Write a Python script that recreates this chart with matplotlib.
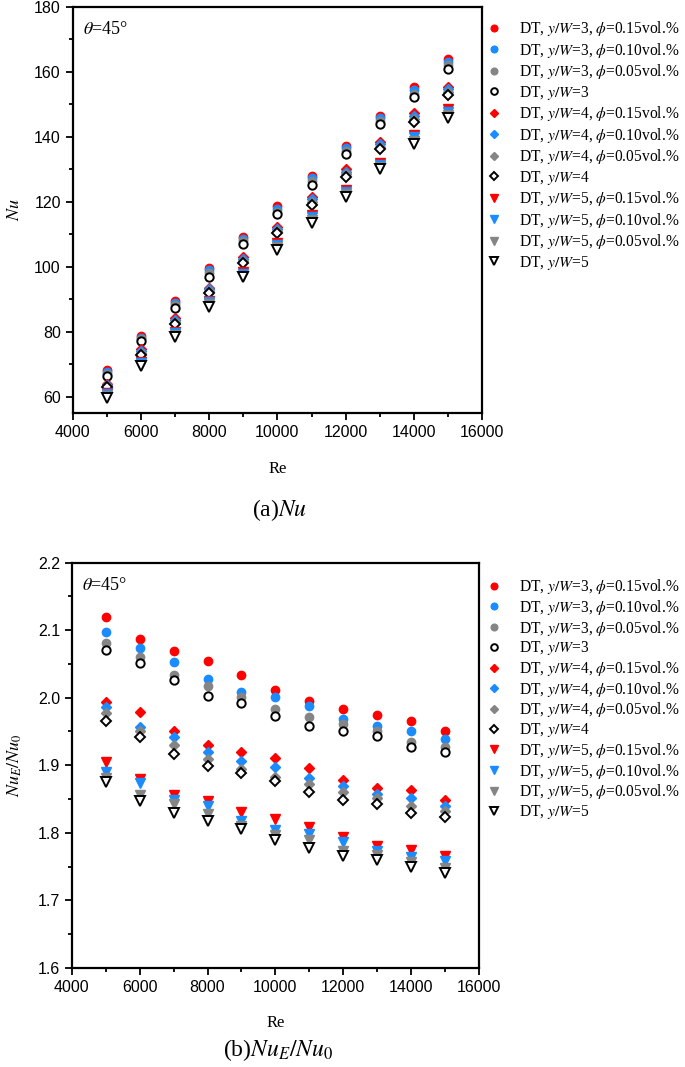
import numpy as np
import matplotlib
matplotlib.use('Agg')
import matplotlib.pyplot as plt
from matplotlib.ticker import MultipleLocator

plt.rcParams['font.family'] = ['Liberation Serif', 'DejaVu Serif']
plt.rcParams['mathtext.fontset'] = 'stix'

# Reynolds numbers
re = [5000, 6000, 7000, 8000, 9000, 10000, 11000, 12000, 13000, 14000, 15000]

# (a) Nu, y/W = 3
nu3_015 = [68.1, 78.7, 89.3, 99.6, 109.3, 118.6, 128.0, 137.2, 146.4, 155.2, 163.8]
nu3_010 = [67.6, 78.2, 88.8, 99.0, 108.6, 117.9, 127.3, 136.5, 145.7, 154.4, 163.0]
nu3_005 = [67.0, 77.7, 88.1, 98.0, 107.8, 117.0, 126.3, 135.6, 144.8, 153.3, 162.0]
nu3_000 = [66.4, 77.2, 87.4, 96.9, 106.9, 116.1, 125.2, 134.6, 143.9, 152.3, 161.0]
# y/W = 4
nu4_015 = [64.0, 74.6, 84.1, 93.5, 103.1, 112.2, 121.6, 130.0, 138.4, 147.3, 155.4]
nu4_010 = [63.7, 74.0, 83.6, 93.0, 102.5, 111.6, 120.8, 129.3, 137.7, 146.5, 154.6]
nu4_005 = [63.3, 73.4, 82.9, 92.4, 101.8, 110.9, 120.0, 128.4, 136.9, 145.5, 153.7]
nu4_000 = [63.0, 72.9, 82.3, 91.9, 101.2, 110.3, 119.1, 127.6, 136.1, 144.5, 152.9]
# y/W = 5
nu5_015 = [61.2, 70.8, 80.0, 89.5, 98.3, 107.2, 115.8, 123.7, 131.9, 140.5, 148.4]
nu5_010 = [60.9, 70.4, 79.7, 89.0, 97.8, 106.7, 115.2, 123.1, 131.3, 139.8, 147.7]
nu5_005 = [60.3, 69.9, 79.0, 88.4, 97.2, 106.0, 114.4, 122.3, 130.6, 138.8, 146.8]
nu5_000 = [59.7, 69.3, 78.4, 87.7, 96.7, 105.2, 113.4, 121.6, 130.0, 137.9, 145.9]

# (b) NuE/Nu0, y/W = 3
r3_015 = [2.120, 2.087, 2.069, 2.055, 2.034, 2.011, 1.995, 1.984, 1.975, 1.965, 1.951]
r3_010 = [2.097, 2.073, 2.053, 2.028, 2.009, 2.001, 1.988, 1.968, 1.958, 1.951, 1.939]
r3_005 = [2.081, 2.061, 2.034, 2.018, 2.001, 1.983, 1.972, 1.961, 1.951, 1.935, 1.927]
r3_000 = [2.070, 2.052, 2.027, 2.002, 1.992, 1.973, 1.958, 1.951, 1.943, 1.927, 1.920]
# y/W = 4
r4_015 = [1.994, 1.979, 1.951, 1.930, 1.920, 1.911, 1.896, 1.878, 1.867, 1.863, 1.848]
r4_010 = [1.987, 1.956, 1.942, 1.920, 1.906, 1.897, 1.881, 1.870, 1.858, 1.852, 1.840]
r4_005 = [1.978, 1.950, 1.930, 1.909, 1.895, 1.883, 1.872, 1.861, 1.851, 1.839, 1.832]
r4_000 = [1.966, 1.942, 1.916, 1.899, 1.889, 1.876, 1.860, 1.848, 1.842, 1.830, 1.824]
# y/W = 5
r5_015 = [1.905, 1.879, 1.856, 1.847, 1.831, 1.821, 1.809, 1.794, 1.781, 1.775, 1.765]
r5_010 = [1.890, 1.873, 1.849, 1.839, 1.818, 1.804, 1.798, 1.787, 1.773, 1.764, 1.758]
r5_005 = [1.881, 1.856, 1.842, 1.828, 1.810, 1.797, 1.789, 1.773, 1.767, 1.757, 1.748]
r5_000 = [1.875, 1.847, 1.830, 1.818, 1.805, 1.790, 1.777, 1.766, 1.759, 1.750, 1.741]

labels = [
    'DT, $y/W$=3, $\\phi$=0.15vol.%', 'DT, $y/W$=3, $\\phi$=0.10vol.%',
    'DT, $y/W$=3, $\\phi$=0.05vol.%', 'DT, $y/W$=3',
    'DT, $y/W$=4, $\\phi$=0.15vol.%', 'DT, $y/W$=4, $\\phi$=0.10vol.%',
    'DT, $y/W$=4, $\\phi$=0.05vol.%', 'DT, $y/W$=4',
    'DT, $y/W$=5, $\\phi$=0.15vol.%', 'DT, $y/W$=5, $\\phi$=0.10vol.%',
    'DT, $y/W$=5, $\\phi$=0.05vol.%', 'DT, $y/W$=5',
]

red = '#ff0000'
blue = '#1a8cff'
gray = '#858585'
faces = [red, blue, gray, 'white'] * 3
edges = [red, blue, gray, 'black'] * 3
marks = ['o'] * 4 + ['D'] * 4 + ['v'] * 4
msizes = [6] * 4 + [5.5] * 4 + [6.5] * 4

nu_series = [nu3_015, nu3_010, nu3_005, nu3_000,
             nu4_015, nu4_010, nu4_005, nu4_000,
             nu5_015, nu5_010, nu5_005, nu5_000]
r_series = [r3_015, r3_010, r3_005, r3_000,
            r4_015, r4_010, r4_005, r4_000,
            r5_015, r5_010, r5_005, r5_000]

fig = plt.figure(figsize=(6.85, 10.67), dpi=100)
ax1 = fig.add_axes([0.106, 0.613, 0.598, 0.3806])
ax2 = fig.add_axes([0.105, 0.093, 0.594, 0.3796])


def style_axes(ax):
    for s in ax.spines.values():
        s.set_linewidth(1.6)
    ax.tick_params(which='both', direction='out', width=1.3)
    ax.tick_params(which='major', length=5)
    ax.tick_params(which='minor', length=3)
    ax.tick_params(top=False, right=False)
    ax.set_xlim(4000, 16000)
    ax.xaxis.set_major_locator(MultipleLocator(2000))
    ax.xaxis.set_minor_locator(MultipleLocator(1000))
    for lab in ax.get_xticklabels() + ax.get_yticklabels():
        lab.set_fontfamily('Liberation Sans')
        lab.set_fontsize(11.5)
    ax.set_xlabel('Re', fontsize=12, labelpad=15)
    ax.text(0.025, 0.965, '$\\theta$=45°', transform=ax.transAxes,
            fontsize=13, va='top', ha='left')


for ax, series in [(ax1, nu_series), (ax2, r_series)]:
    for i, ys in enumerate(series):
        ax.plot(re, ys, linestyle='none', marker=marks[i], markersize=msizes[i],
                markerfacecolor=faces[i], markeredgecolor=edges[i],
                markeredgewidth=1.4 if faces[i] == 'white' else 1.0,
                label=labels[i])

ax1.set_ylim(55, 180)
ax1.yaxis.set_major_locator(MultipleLocator(20))
ax1.yaxis.set_minor_locator(MultipleLocator(10))
ax1.set_yticks([60, 80, 100, 120, 140, 160, 180])
ax1.set_ylabel('$Nu$', fontsize=13, labelpad=8)

ax2.set_ylim(1.6, 2.2)
ax2.yaxis.set_major_locator(MultipleLocator(0.1))
ax2.yaxis.set_minor_locator(MultipleLocator(0.05))
ax2.yaxis.set_major_formatter(plt.FormatStrFormatter('%.1f'))
ax2.set_ylabel('$Nu_E/Nu_0$', fontsize=13, labelpad=10)

style_axes(ax1)
style_axes(ax2)

for ax, top, spacing in [(ax1, 1 - 13 / 1067, 0.16), (ax2, 1 - 571 / 1067, 0.11)]:
    ax.legend(loc='upper left', bbox_to_anchor=(482 / 685, top),
              bbox_transform=fig.transFigure, frameon=False, fontsize=11.2,
              borderaxespad=0, handlelength=0.8, handletextpad=1.15,
              labelspacing=spacing, markerscale=0.8)

fig.text(280 / 685, 1 - 510 / 1067, '(a)$Nu$', fontsize=17, ha='center', va='center')
fig.text(278 / 685, 1 - 1050 / 1067, '(b)$Nu_E/Nu_0$', fontsize=17, ha='center', va='center')

fig.savefig('out.png', dpi=100)
